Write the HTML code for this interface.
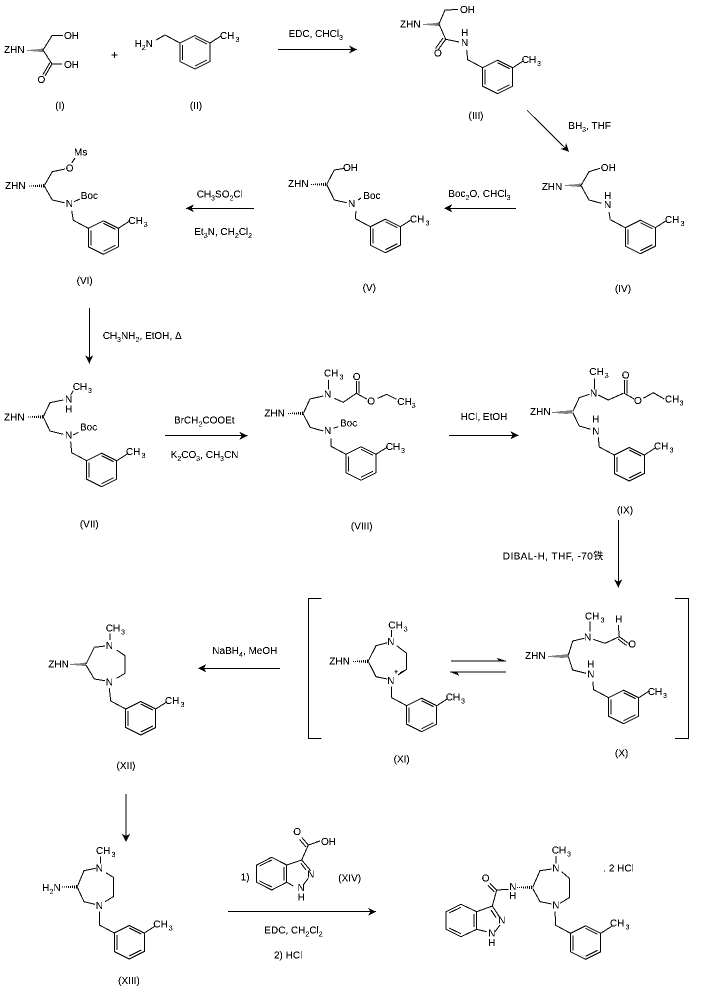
<!DOCTYPE html>
<html><head><meta charset="utf-8"><title>Synthetic scheme</title>
<style>
html,body{margin:0;padding:0;background:#fff}
svg{display:block}
text{font-family:"Liberation Sans","Noto Sans CJK SC",sans-serif;font-size:10px;fill:#000}
tspan.s{font-size:7px}
.l{fill:none;stroke:#000;stroke-width:1;shape-rendering:crispEdges}
.a{fill:none;stroke:#000;stroke-width:1;shape-rendering:crispEdges;marker-end:url(#ah)}
</style></head><body>
<svg width="701" height="987" viewBox="0 0 701 987" xmlns="http://www.w3.org/2000/svg">
<defs>
<marker id="ah" markerUnits="userSpaceOnUse" markerWidth="10" markerHeight="10" refX="8" refY="4" orient="auto"><path d="M8,4 L0,0 L2.5,4 L0,8Z" fill="#000"/></marker>
<g id="b" class="l"><path d="M-15,-8 L0,0 L15,-7.5 L30,0 L30,18.5 L15,26 L0,18.5 L0,0 M30,0 L41,-7 M15,-5 L27,1 M2.5,2 L2.5,17 M15,23 L27,17"/></g>
<g id="hh" class="l"><path d="M-15,-.5 V.5 M-13,-.5 V.5 M-11,-1 V.5 M-9,-1 V1 M-7,-1 V1 M-5,-1.5 V1 M-3,-1.5 V1.5 M-1,-2 V1.5"/></g>
<filter id="t" filterUnits="userSpaceOnUse" x="0" y="0" width="701" height="987" color-interpolation-filters="sRGB"><feComponentTransfer><feFuncA type="discrete" tableValues="0 0 1 1 1"/></feComponentTransfer></filter>
</defs>
<rect width="701" height="987" fill="#fff"/>
<g filter="url(#t)">

<!-- I -->
<use href="#hh" x="43" y="50.5"/>
<path class="l" d="M43,50 L52,35.7 L63,35.7 M43,50 L52,64 L62,64 M52,64 L45,76 M50,62.5 L43,74.5"/>
<text x="4" y="53">ZHN</text><text x="64" y="39">OH</text><text x="64" y="68">OH</text><text x="37.5" y="83">O</text>
<text x="60" y="109" text-anchor="middle">(I)</text>
<text x="111" y="59" style="font-size:12px">+</text>

<!-- II -->
<use href="#b" x="180" y="43"/><path class="l" d="M156,40 L165,35"/>
<text x="134.5" y="47">H<tspan class="s" dy="3">2</tspan><tspan dy="-3">N</tspan></text>
<text x="220" y="39">CH<tspan class="s" dx="1" dy="3">3</tspan></text>
<text x="196" y="109" text-anchor="middle">(II)</text>

<path class="a" d="M278,49.5 L357,49.5"/>
<text x="288.5" y="37">EDC, CHCl<tspan class="s" dy="3">3</tspan></text>

<!-- III -->
<use href="#b" x="482.7" y="67.7"/>
<use href="#hh" x="439" y="24.5"/>
<path class="l" d="M439,24 L445,10 L458,9.5 M439,24 L445.7,39.3 L459,42 M445.7,39.3 L438,50 M443,38 L435.5,48.5 M466.7,50 L467.7,60"/>
<text x="400" y="27.7">ZHN</text><text x="460" y="13">OH</text><text x="434" y="56.6">O</text><text x="461" y="36">H</text><text x="461" y="46">N</text>
<text x="521.7" y="63">CH<tspan class="s" dx="1" dy="3">3</tspan></text>
<text x="476" y="119" text-anchor="middle">(III)</text>

<path class="a" d="M527,110.3 L569,151.7"/>
<text x="568.3" y="129">BH<tspan class="s" dy="3">3</tspan><tspan dy="-3">, THF</tspan></text>

<!-- IV -->
<use href="#b" x="625.3" y="227.7"/>
<use href="#hh" x="581" y="185.7"/>
<path class="l" d="M581,185.5 L589,171.7 L600,168.3 M581,185.5 L589,200 L601.7,203.3 M609,212 L610.3,219.7"/>
<text x="541.7" y="190">ZHN</text><text x="600.7" y="171">OH</text><text x="604" y="199">H</text><text x="604" y="208">N</text>
<text x="665" y="223">CH<tspan class="s" dx="1" dy="3">3</tspan></text>
<text x="623" y="292" text-anchor="middle">(IV)</text>

<path class="a" d="M516,208.3 L444.3,208.3"/>
<text x="448.3" y="197">Boc<tspan class="s" dy="3">2</tspan><tspan dy="-3">O, CHCl</tspan><tspan class="s" dy="3">3</tspan></text>

<!-- V -->
<use href="#b" x="370.3" y="226.7"/>
<use href="#hh" x="326.7" y="184.5"/>
<path class="l" d="M326.7,184.5 L334.3,170 L345,168.3 M326.7,184.5 L334.3,200 L346.7,202.7 M358,200 L361,198 M356,211 L355.3,218.7"/>
<text x="288" y="187">ZHN</text><text x="343" y="171">OH</text><text x="348" y="207">N</text><text x="363.3" y="199">Boc</text>
<text x="410" y="222.7">CH<tspan class="s" dx="1" dy="3">3</tspan></text>
<text x="369.3" y="291" text-anchor="middle">(V)</text>

<path class="a" d="M254,208.3 L186,208.3"/>
<text x="196.7" y="197.3">CH<tspan class="s" dy="3">3</tspan><tspan dy="-3">SO</tspan><tspan class="s" dy="3">2</tspan><tspan dy="-3">Cl</tspan></text>
<text x="194.3" y="235">Et<tspan class="s" dy="3">3</tspan><tspan dy="-3">N, CH</tspan><tspan class="s" dy="3">2</tspan><tspan dy="-3">Cl</tspan><tspan class="s" dy="3">2</tspan></text>

<!-- VI -->
<use href="#b" x="88.3" y="228.3"/>
<use href="#hh" x="44.3" y="186"/>
<path class="l" d="M44.3,185.5 L52.3,171.7 L65,169 M71.7,163 L75,158 M44.3,186 L52.3,200 L64.3,202.7 M74,201.7 L80,199 M71.7,210.7 L73.3,220.3"/>
<text x="5" y="189">ZHN</text><text x="65.7" y="171.7">O</text><text x="74" y="155.7">Ms</text><text x="65.7" y="207">N</text><text x="80.7" y="199">Boc</text>
<text x="128.3" y="224">CH<tspan class="s" dx="1" dy="3">3</tspan></text>
<text x="84.7" y="284" text-anchor="middle">(VI)</text>

<path class="a" d="M89.3,308 L89.3,363.3"/>
<text x="102.7" y="339">CH<tspan class="s" dy="3">3</tspan><tspan dy="-3">NH</tspan><tspan class="s" dy="3">2</tspan><tspan dy="-3">, EtOH, Δ</tspan></text>

<!-- VII -->
<use href="#b" x="86.7" y="460.7"/>
<use href="#hh" x="43.3" y="417"/>
<path class="l" d="M43.3,416.7 L50,402.7 L63.3,400 M70.7,395 L73.3,390.7 M43.3,417 L50,431 L63.3,434.3 M73.3,435 L78.3,432.3 M70.7,441.7 L71.7,452.7"/>
<text x="4" y="420.7">ZHN</text><text x="65" y="402.7">N</text><text x="65" y="412.7">H</text><text x="65" y="438.3">N</text><text x="80" y="430.7">Boc</text>
<text x="72.7" y="390">CH<tspan class="s" dx="1" dy="3">3</tspan></text>
<text x="126" y="455">CH<tspan class="s" dx="1" dy="3">3</tspan></text>
<text x="89.3" y="527.7" text-anchor="middle">(VII)</text>

<path class="a" d="M165,435.7 L247.3,435.7"/>
<text x="174" y="423.3">BrCH<tspan class="s" dy="3">2</tspan><tspan dy="-3">COOEt</tspan></text>
<text x="170.7" y="458">K<tspan class="s" dy="3">2</tspan><tspan dy="-3">CO</tspan><tspan class="s" dy="3">3</tspan><tspan dy="-3">, CH</tspan><tspan class="s" dy="3">3</tspan><tspan dy="-3">CN</tspan></text>

<!-- VIII -->
<use href="#b" x="346" y="454.3"/>
<use href="#hh" x="303.3" y="413.7"/>
<path class="l" d="M303.3,413.5 L310,399 L323.3,396 M328.3,380 L328.3,389.3 M334.3,398.3 L343.3,402.3 L356.3,393.3 M356.3,393.3 L356.3,381 M358.8,393.3 L358.8,381 M356.3,393.3 L366.7,399 M377.7,398.3 L386.7,394.3 L396.7,399.3 M303.3,414 L310,427.3 L323.3,431 M333.3,428.3 L338.3,426.7 M331,438.3 L331,446.3"/>
<text x="264.3" y="416.7">ZHN</text><text x="324" y="397.7">N</text><text x="324" y="376.7">CH<tspan class="s" dx="1" dy="3">3</tspan></text>
<text x="352.7" y="380">O</text><text x="367.3" y="404.3">O</text><text x="397.3" y="405">CH<tspan class="s" dy="3">3</tspan></text>
<text x="324" y="434">N</text><text x="340" y="426.7">Boc</text>
<text x="385.7" y="450">CH<tspan class="s" dx="1" dy="3">3</tspan></text>
<text x="361.7" y="529.3" text-anchor="middle">(VIII)</text>

<path class="a" d="M449,435.3 L518.3,435.3"/>
<text x="460.7" y="420">HCl, EtOH</text>

<!-- IX -->
<use href="#b" x="614.3" y="455"/>
<use href="#hh" x="572" y="412"/><use href="#hh" x="568" y="412.3"/>
<path class="l" d="M572.7,411.7 L579.3,397.7 L589.3,394.3 M594.3,378.3 L594.3,389.3 M598.3,395 L608.3,400 L623.3,393.3 M624.3,393.3 L624.3,380 M626.8,393.3 L626.8,380 M624.3,393.3 L634.3,399 M643.3,398.3 L653.3,392.7 L664.3,399 M572.7,412.7 L579.3,426 L590.7,429.3 M598.3,437.3 L599.3,447"/>
<text x="530" y="415">ZHN</text><text x="590" y="396.7">N</text><text x="589.3" y="375">CH<tspan class="s" dx="1" dy="3">3</tspan></text>
<text x="621.7" y="378.3">O</text><text x="634" y="404">O</text><text x="665" y="402.7">CH<tspan class="s" dy="3">3</tspan></text>
<text x="592.3" y="422.7">H</text><text x="592.3" y="434.3">N</text>
<text x="654" y="449.3">CH<tspan class="s" dx="1" dy="3">3</tspan></text>
<text x="625" y="513.3" text-anchor="middle">(IX)</text>

<path class="a" d="M618.3,520 L618.3,587.3"/>
<text x="502.7" y="559.3" textLength="100.5" lengthAdjust="spacing">DIBAL-H, THF, -70铁</text>

<!-- brackets -->
<path class="l" d="M321.7,598.3 L308.3,598.3 L308.3,738.3 L321.7,738.3 M675,598.3 L688.3,598.3 L688.3,738.3 L675,738.3"/>

<!-- XI -->
<use href="#b" x="406.7" y="705.7"/>
<use href="#hh" x="368.3" y="661.3"/>
<path class="l" d="M368.3,661 L376,645.7 L387.3,642.7 M391.7,630 L391.7,637 M396.7,645.7 L406.7,653.3 L406.7,669.3 L398,675 M400,672.7 L405.5,670 M368.3,661.5 L376,676.7 L387.3,679 M391.7,686.7 L391.7,697.7"/>
<text x="329.3" y="664.3">ZHN</text><text x="387.3" y="645">N</text><text x="388.3" y="628.3">CH<tspan class="s" dx="1" dy="3">3</tspan></text>
<text x="387.3" y="684">N</text><text x="394" y="674" style="font-size:7px">+</text>
<text x="445.7" y="700.7">CH<tspan class="s" dx="1" dy="3">3</tspan></text>
<text x="401.7" y="762.3" text-anchor="middle">(XI)</text>

<!-- equilibrium -->
<path class="l" d="M451,661 L506,661 M450,672 L506,672"/>
<path d="M506,661 L497,658 L499,661Z M450,672 L459,675.5 L457,672Z" fill="#000"/>

<!-- X -->
<use href="#b" x="608.7" y="697.7"/>
<use href="#hh" x="568" y="656"/><use href="#hh" x="564" y="656.3"/>
<path class="l" d="M568.3,655.3 L572.7,641 L584.3,638.3 M590,621.7 L590,631.7 M593.3,639.3 L605,643.3 L619.3,636.7 M618.3,625 L619.3,636.7 L628.3,643.3 M618,639 L626.5,645.5 M568.3,656.7 L572.7,670 L586,673.3 M592.7,681.7 L593.7,689.7"/>
<text x="525" y="659">ZHN</text><text x="584" y="640.7">N</text><text x="585" y="619.3">CH<tspan class="s" dx="1" dy="3">3</tspan></text>
<text x="615" y="622.7">H</text><text x="628.3" y="647.7">O</text><text x="587.3" y="667.3">H</text><text x="587.3" y="677.7">N</text>
<text x="647.7" y="695">CH<tspan class="s" dx="1" dy="3">3</tspan></text>
<text x="621.7" y="756.7" text-anchor="middle">(X)</text>

<path class="a" d="M280,668.3 L198.3,668.3"/>
<text x="212.3" y="654">NaBH<tspan class="s" dy="3">4</tspan><tspan dy="-3">, MeOH</tspan></text>

<!-- XII -->
<use href="#b" x="125.7" y="709"/>
<use href="#hh" x="86" y="664.5"/>
<path class="l" d="M86,664 L94.3,647.3 L105,646 M110,633.3 L110,640 M116.7,650 L125,655.7 L125,673.3 L116.7,678.3 M86,665 L94.3,679 L105,680.7 M109.3,688.3 L110.7,701"/>
<text x="48.3" y="667.7">ZHN</text><text x="105.7" y="649">N</text><text x="105.7" y="631.7">CH<tspan class="s" dx="1" dy="3">3</tspan></text>
<text x="105.7" y="685.7">N</text><text x="165" y="704">CH<tspan class="s" dx="1" dy="3">3</tspan></text>
<text x="126" y="769" text-anchor="middle">(XII)</text>

<path class="a" d="M126,794 L126,841.7"/>

<!-- XIII -->
<use href="#b" x="114.3" y="933"/>
<use href="#hh" x="77.3" y="887"/>
<path class="l" d="M77.3,886.7 L84,870.7 L95.7,868.3 M100.7,856.7 L100.7,863.3 M106,872.7 L113.3,877.3 L113.3,896.7 L105,901.7 M77.3,887.3 L84,901.7 L95,904.3 M99.3,911.7 L99.3,925"/>
<text x="42.3" y="891">H<tspan class="s" dy="3">2</tspan><tspan dy="-3">N</tspan></text><text x="95.7" y="871.7">N</text><text x="96" y="854">CH<tspan class="s" dx="1" dy="3">3</tspan></text>
<text x="95.7" y="909">N</text><text x="153.3" y="927.3">CH<tspan class="s" dx="1" dy="3">3</tspan></text>
<text x="129" y="984" text-anchor="middle">(XIII)</text>

<path class="a" d="M228,911.7 L376,911.7"/>
<text x="240.7" y="880.7">1)</text><text x="338.3" y="881.7">(XIV)</text>
<text x="264.3" y="933.3">EDC, CH<tspan class="s" dy="3">2</tspan><tspan dy="-3">Cl</tspan><tspan class="s" dy="3">2</tspan></text>
<text x="274" y="958.3">2) HCl</text>

<!-- XIV -->
<path class="l" d="M256.7,865 L271.7,857.3 L286.7,865 L286.7,882.3 L271.7,890 L256.7,882.3 Z M259.5,866 L271.7,860 M259.5,881 L271.7,887 M284,867 L284,880.5 M286.7,865 L301.7,860 L310.7,870.7 M301,863.3 L306,870 M308.3,878.3 L303.3,885 M293.3,886 L286.7,882.3 M301.7,860 L308.3,845 L320,841 M308.3,845 L301.7,837.3 M306,847 L299.5,839.5"/>
<text x="293.3" y="835">O</text><text x="321" y="845">OH</text><text x="307.3" y="877.3">N</text><text x="297.5" y="891">N</text><text x="297.5" y="900.7">H</text>

<!-- Product -->
<use href="#b" x="570.7" y="933.3"/>
<use href="#hh" x="532.7" y="887.7"/>
<path class="l" d="M556,856 L556,863.3 M532.7,887.3 L540,870.7 L551.7,869 M561.7,871.7 L569.3,878.3 L569.3,897.7 L560,903.3 M532.7,888.3 L540,901.7 L551.7,904 M555,911.7 L555.7,925.3 M496.7,890 L508.3,889.3 M496.7,890 L490,883.3 M494.5,892 L488,885.5 M496.7,890 L492.3,906 M446,911.7 L461,904.3 L476.7,911.7 L476.7,929.3 L461,936.7 L446,929.3 Z M449,913 L461,907.3 M449,928 L461,933.7 M474,914 L474,927 M476.7,911.7 L492.3,906 L499.3,916.7 M491,910 L496,917.5 M500,925 L495,931.7 M486.7,931.7 L476.7,929.3"/>
<text x="551.7" y="853.3">CH<tspan class="s" dx="1" dy="3">3</tspan></text><text x="552.3" y="871.7">N</text>
<text x="603.3" y="871.7">. 2 HCl</text><text x="552.3" y="908.3">N</text>
<text x="610" y="926.7">CH<tspan class="s" dx="1" dy="3">3</tspan></text>
<text x="509.3" y="890">N</text><text x="509.3" y="899">H</text><text x="481.7" y="881.7">O</text>
<text x="498.3" y="923.3">N</text><text x="488.3" y="936.7">N</text><text x="488.3" y="946">H</text>
</g>
</svg>
</body></html>
